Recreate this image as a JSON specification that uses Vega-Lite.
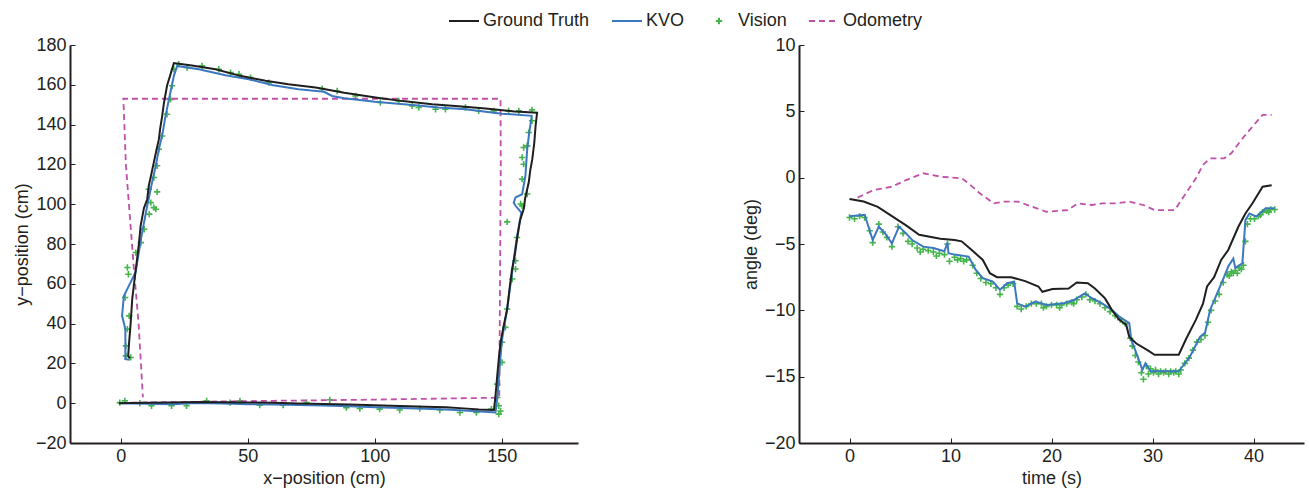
{
  "$schema": "https://vega.github.io/schema/vega-lite/v6.json",
  "background": "white",
  "padding": {"left": 13, "top": 5, "right": 3, "bottom": 5},
  "bounds": "flush",
  "spacing": 221,
  "config": {
    "view": {"stroke": null},
    "font": "Liberation Sans",
    "axis": {
      "grid": false,
      "domainColor": "#231f20",
      "domainWidth": 2,
      "tickColor": "#231f20",
      "tickWidth": 1,
      "tickSize": -5,
      "labelPadding": 9,
      "labelFont": "Liberation Sans",
      "labelFontSize": 18,
      "labelColor": "#231f20",
      "titleFont": "Liberation Sans",
      "titleFontSize": 18,
      "titleFontWeight": "normal",
      "titleColor": "#231f20",
      "titlePadding": 4
    },
    "legend": {
      "labelFont": "Liberation Sans",
      "labelFontSize": 18,
      "labelColor": "#231f20"
    }
  },
  "datasets": {
    "pos": [
      {"s":"Vision","x":22.8,"y":170.4},{"s":"Vision","x":26.1,"y":168.7},{"s":"Vision","x":32,"y":169.5},{"s":"Vision","x":38.6,"y":167.8},{"s":"Vision","x":43.2,"y":166.1},{"s":"Vision","x":46.5,"y":165.3},{"s":"Vision","x":51.1,"y":163.6},{"s":"Vision","x":58.3,"y":161.1},{"s":"Vision","x":79.3,"y":158.1},{"s":"Vision","x":85.2,"y":156.9},{"s":"Vision","x":92.4,"y":154.4},{"s":"Vision","x":102.2,"y":151.1},{"s":"Vision","x":109.4,"y":151.9},{"s":"Vision","x":114.7,"y":149.4},{"s":"Vision","x":117.3,"y":148.6},{"s":"Vision","x":123.9,"y":147.7},{"s":"Vision","x":127.8,"y":147.7},{"s":"Vision","x":135.7,"y":148.6},{"s":"Vision","x":140.9,"y":146.9},{"s":"Vision","x":146.8,"y":146.9},{"s":"Vision","x":152.7,"y":146.9},{"s":"Vision","x":156.7,"y":146.9},{"s":"Vision","x":161.9,"y":147.4},{"s":"Vision","x":161.9,"y":141.9},{"s":"Vision","x":160.6,"y":136},{"s":"Vision","x":160,"y":129.3},{"s":"Vision","x":158.6,"y":128.5},{"s":"Vision","x":158,"y":123.5},{"s":"Vision","x":158.6,"y":120.1},{"s":"Vision","x":158,"y":112.6},{"s":"Vision","x":160,"y":105.1},{"s":"Vision","x":157.4,"y":100.1},
      {"s":"Vision","x":20.9,"y":167.8},{"s":"Vision","x":20.2,"y":159.5},{"s":"Vision","x":19.6,"y":152.7},{"s":"Vision","x":18.2,"y":145.2},{"s":"Vision","x":16.3,"y":134.3},{"s":"Vision","x":15,"y":127.6},{"s":"Vision","x":14.3,"y":119.3},{"s":"Vision","x":13,"y":113.4},{"s":"Vision","x":14.3,"y":106.2},{"s":"Vision","x":11,"y":107.5},{"s":"Vision","x":13,"y":98.3},
      {"s":"Vision","x":11.8,"y":100.8},{"s":"Vision","x":13.8,"y":97.5},{"s":"Vision","x":11.2,"y":95},{"s":"Vision","x":9.2,"y":87.4},{"s":"Vision","x":7.9,"y":80.7},{"s":"Vision","x":5.9,"y":75.7},{"s":"Vision","x":2.6,"y":68.2},{"s":"Vision","x":3,"y":64.8},{"s":"Vision","x":1.7,"y":53.1},{"s":"Vision","x":3.3,"y":43.9},{"s":"Vision","x":2.6,"y":37.2},{"s":"Vision","x":2,"y":28.8},{"s":"Vision","x":2,"y":23.8},{"s":"Vision","x":3.9,"y":23},
      {"s":"Vision","x":158,"y":99.2},{"s":"Vision","x":152.1,"y":91.1},{"s":"Vision","x":156,"y":83.3},{"s":"Vision","x":155.4,"y":71.6},{"s":"Vision","x":155.4,"y":67.4},{"s":"Vision","x":154.1,"y":62.4},{"s":"Vision","x":152.1,"y":47.3},{"s":"Vision","x":151.4,"y":38.1},{"s":"Vision","x":150.1,"y":30.6},{"s":"Vision","x":150.1,"y":20.5},{"s":"Vision","x":148.2,"y":9.6},{"s":"Vision","x":148.2,"y":2.9},{"s":"Vision","x":148.8,"y":-1.3},{"s":"Vision","x":148.8,"y":-5.5},{"s":"Vision","x":149.5,"y":-3.9},
      {"s":"Vision","x":-0.4,"y":0.3},{"s":"Vision","x":1.6,"y":1.2},{"s":"Vision","x":7.5,"y":0},{"s":"Vision","x":12.1,"y":-1.3},{"s":"Vision","x":20,"y":-1.3},{"s":"Vision","x":25.9,"y":-1.3},{"s":"Vision","x":33.8,"y":1.2},{"s":"Vision","x":43,"y":0.3},{"s":"Vision","x":46.9,"y":1.2},{"s":"Vision","x":54.7,"y":-1},{"s":"Vision","x":63.9,"y":-1},{"s":"Vision","x":73.1,"y":0.3},{"s":"Vision","x":82.3,"y":1.7},{"s":"Vision","x":88.8,"y":-2.2},{"s":"Vision","x":94.1,"y":-2.7},{"s":"Vision","x":101.9,"y":-3},{"s":"Vision","x":109.8,"y":-3.4},{"s":"Vision","x":117.7,"y":-2.7},{"s":"Vision","x":125.6,"y":-3.4},{"s":"Vision","x":133.5,"y":-4.7},{"s":"Vision","x":140,"y":-4.7},{"s":"Vision","x":145.9,"y":-3},
      {"s":"Odometry","x":0,"y":0.2},{"s":"Odometry","x":20,"y":0.5},{"s":"Odometry","x":40,"y":0.9},{"s":"Odometry","x":60,"y":1.2},{"s":"Odometry","x":80,"y":1.5},{"s":"Odometry","x":100,"y":1.8},{"s":"Odometry","x":120,"y":2.2},{"s":"Odometry","x":140,"y":2.6},{"s":"Odometry","x":149,"y":2.8},{"s":"Odometry","x":149.2,"y":40},{"s":"Odometry","x":149.4,"y":80},{"s":"Odometry","x":149.6,"y":120},{"s":"Odometry","x":149.5,"y":153},{"s":"Odometry","x":120,"y":153},{"s":"Odometry","x":80,"y":153},{"s":"Odometry","x":40,"y":153},{"s":"Odometry","x":1,"y":153},{"s":"Odometry","x":2,"y":120},{"s":"Odometry","x":3.2,"y":100},{"s":"Odometry","x":5,"y":70},{"s":"Odometry","x":7,"y":40},{"s":"Odometry","x":8.7,"y":3},
      {"s":"KVO","x":0,"y":0},{"s":"KVO","x":10,"y":-0.3},{"s":"KVO","x":20,"y":-0.5},{"s":"KVO","x":30,"y":0.1},{"s":"KVO","x":40,"y":-0.2},{"s":"KVO","x":50,"y":-0.5},{"s":"KVO","x":60,"y":-0.6},{"s":"KVO","x":70,"y":-0.9},{"s":"KVO","x":80,"y":-1.2},{"s":"KVO","x":90,"y":-1.5},{"s":"KVO","x":100,"y":-2},{"s":"KVO","x":110,"y":-2.4},{"s":"KVO","x":120,"y":-2.8},{"s":"KVO","x":130,"y":-3.3},{"s":"KVO","x":140,"y":-4},{"s":"KVO","x":147.5,"y":-4.7},{"s":"KVO","x":148.3,"y":3},{"s":"KVO","x":148.8,"y":12},{"s":"KVO","x":149.4,"y":22},{"s":"KVO","x":150.1,"y":32},{"s":"KVO","x":151.1,"y":40},{"s":"KVO","x":152.1,"y":47},{"s":"KVO","x":153,"y":56},{"s":"KVO","x":154,"y":65},{"s":"KVO","x":155,"y":75},{"s":"KVO","x":156,"y":84},{"s":"KVO","x":157.7,"y":95.8},{"s":"KVO","x":155.4,"y":99.2},{"s":"KVO","x":154.7,"y":100.8},{"s":"KVO","x":155.4,"y":103.4},{"s":"KVO","x":158,"y":105},{"s":"KVO","x":159.3,"y":114.2},{"s":"KVO","x":159.6,"y":120},{"s":"KVO","x":160,"y":127.6},{"s":"KVO","x":160.8,"y":136},{"s":"KVO","x":161.8,"y":144.4},{"s":"KVO","x":150,"y":145.5},{"s":"KVO","x":135.7,"y":147.7},{"s":"KVO","x":125,"y":148.6},{"s":"KVO","x":116,"y":149.7},{"s":"KVO","x":100,"y":151.5},{"s":"KVO","x":88,"y":153.2},{"s":"KVO","x":83.2,"y":154.4},{"s":"KVO","x":80,"y":156.5},{"s":"KVO","x":70,"y":157.8},{"s":"KVO","x":60,"y":159.8},{"s":"KVO","x":50.4,"y":162.8},{"s":"KVO","x":41.2,"y":164.8},{"s":"KVO","x":30.7,"y":167.8},{"s":"KVO","x":22.2,"y":169.5},{"s":"KVO","x":20.9,"y":164.5},{"s":"KVO","x":19.5,"y":156},{"s":"KVO","x":17.6,"y":144.4},{"s":"KVO","x":16.5,"y":136},{"s":"KVO","x":15,"y":127.6},{"s":"KVO","x":13.7,"y":119},{"s":"KVO","x":12.3,"y":110.9},{"s":"KVO","x":10.4,"y":99.2},{"s":"KVO","x":8.4,"y":85.8},{"s":"KVO","x":7,"y":75},{"s":"KVO","x":5.8,"y":65.7},{"s":"KVO","x":3.8,"y":60.6},{"s":"KVO","x":1.2,"y":53.9},{"s":"KVO","x":0.5,"y":43.9},{"s":"KVO","x":1.8,"y":37.2},{"s":"KVO","x":1.8,"y":22.1},{"s":"KVO","x":3.5,"y":21.8},
      {"s":"Ground Truth","x":-0.8,"y":0},{"s":"Ground Truth","x":10,"y":0.2},{"s":"Ground Truth","x":20,"y":0.3},{"s":"Ground Truth","x":30,"y":0.6},{"s":"Ground Truth","x":40,"y":0.5},{"s":"Ground Truth","x":50,"y":0.4},{"s":"Ground Truth","x":60,"y":0.2},{"s":"Ground Truth","x":70,"y":-0.1},{"s":"Ground Truth","x":80,"y":-0.4},{"s":"Ground Truth","x":90,"y":-0.6},{"s":"Ground Truth","x":100,"y":-1},{"s":"Ground Truth","x":110,"y":-1.4},{"s":"Ground Truth","x":120,"y":-1.8},{"s":"Ground Truth","x":128,"y":-2},{"s":"Ground Truth","x":135,"y":-2.6},{"s":"Ground Truth","x":141,"y":-3.2},{"s":"Ground Truth","x":146.9,"y":-3.4},{"s":"Ground Truth","x":147.4,"y":2},{"s":"Ground Truth","x":148.2,"y":13.7},{"s":"Ground Truth","x":148.8,"y":22},{"s":"Ground Truth","x":149.5,"y":30.5},{"s":"Ground Truth","x":150.6,"y":38},{"s":"Ground Truth","x":152.1,"y":47.2},{"s":"Ground Truth","x":153,"y":57},{"s":"Ground Truth","x":154,"y":67},{"s":"Ground Truth","x":155.2,"y":75},{"s":"Ground Truth","x":156,"y":82.4},{"s":"Ground Truth","x":157.2,"y":92},{"s":"Ground Truth","x":158.7,"y":98},{"s":"Ground Truth","x":159.2,"y":103},{"s":"Ground Truth","x":160.6,"y":110.9},{"s":"Ground Truth","x":161.2,"y":117},{"s":"Ground Truth","x":162,"y":122.6},{"s":"Ground Truth","x":162.8,"y":131},{"s":"Ground Truth","x":163.3,"y":139.3},{"s":"Ground Truth","x":163.9,"y":146},{"s":"Ground Truth","x":155,"y":146.6},{"s":"Ground Truth","x":143.6,"y":148.1},{"s":"Ground Truth","x":133,"y":149.2},{"s":"Ground Truth","x":122.6,"y":150.2},{"s":"Ground Truth","x":111,"y":151.8},{"s":"Ground Truth","x":100.3,"y":153.6},{"s":"Ground Truth","x":88,"y":156},{"s":"Ground Truth","x":76.7,"y":158.6},{"s":"Ground Truth","x":66,"y":160.3},{"s":"Ground Truth","x":57,"y":162},{"s":"Ground Truth","x":47,"y":164.5},{"s":"Ground Truth","x":37.3,"y":167.8},{"s":"Ground Truth","x":28,"y":169.7},{"s":"Ground Truth","x":20.9,"y":170.9},{"s":"Ground Truth","x":19.5,"y":165},{"s":"Ground Truth","x":18.2,"y":159.5},{"s":"Ground Truth","x":17,"y":151},{"s":"Ground Truth","x":16.3,"y":144.4},{"s":"Ground Truth","x":15.5,"y":138},{"s":"Ground Truth","x":15,"y":132.7},{"s":"Ground Truth","x":14,"y":127},{"s":"Ground Truth","x":13,"y":121},{"s":"Ground Truth","x":12,"y":115},{"s":"Ground Truth","x":11,"y":109.2},{"s":"Ground Truth","x":10.4,"y":102.5},{"s":"Ground Truth","x":9.1,"y":98},{"s":"Ground Truth","x":7.8,"y":89.1},{"s":"Ground Truth","x":7.2,"y":81},{"s":"Ground Truth","x":6.4,"y":72.4},{"s":"Ground Truth","x":5.4,"y":62},{"s":"Ground Truth","x":4.5,"y":52.3},{"s":"Ground Truth","x":3.8,"y":38.8},{"s":"Ground Truth","x":3.3,"y":31},{"s":"Ground Truth","x":2.9,"y":23.8},{"s":"Ground Truth","x":3.6,"y":22.5}
    ],
    "ang": [
      {"s":"Vision","t":0,"a":-3.0},{"s":"Vision","t":0.5,"a":-3.1},{"s":"Vision","t":1.0,"a":-2.9},{"s":"Vision","t":1.5,"a":-3.0},{"s":"Vision","t":2.0,"a":-4.0},{"s":"Vision","t":2.3,"a":-4.9},{"s":"Vision","t":2.9,"a":-3.5},{"s":"Vision","t":3.3,"a":-4.1},{"s":"Vision","t":3.7,"a":-4.5},{"s":"Vision","t":4.2,"a":-5.2},{"s":"Vision","t":4.8,"a":-3.7},{"s":"Vision","t":5.3,"a":-4.2},{"s":"Vision","t":5.8,"a":-4.8},{"s":"Vision","t":6.2,"a":-5.0},{"s":"Vision","t":6.7,"a":-5.3},{"s":"Vision","t":7.3,"a":-5.4},{"s":"Vision","t":7.8,"a":-5.5},{"s":"Vision","t":8.3,"a":-5.6},{"s":"Vision","t":8.9,"a":-5.7},{"s":"Vision","t":9.4,"a":-5.8},{"s":"Vision","t":9.7,"a":-5.0},{"s":"Vision","t":9.9,"a":-6.3},{"s":"Vision","t":10.4,"a":-6.0},{"s":"Vision","t":11.0,"a":-6.1},{"s":"Vision","t":11.6,"a":-6.2},{"s":"Vision","t":12.2,"a":-6.6},{"s":"Vision","t":12.6,"a":-7.2},{"s":"Vision","t":13.0,"a":-7.6},{"s":"Vision","t":13.5,"a":-7.9},{"s":"Vision","t":14.0,"a":-8.0},{"s":"Vision","t":14.5,"a":-8.3},{"s":"Vision","t":14.9,"a":-8.8},{"s":"Vision","t":15.3,"a":-8.3},{"s":"Vision","t":15.7,"a":-8.1},{"s":"Vision","t":16.2,"a":-8.0},{"s":"Vision","t":16.6,"a":-9.7},{"s":"Vision","t":17.0,"a":-9.9},{"s":"Vision","t":17.5,"a":-9.7},{"s":"Vision","t":18.0,"a":-9.5},{"s":"Vision","t":18.5,"a":-9.5},{"s":"Vision","t":19.0,"a":-9.5},{"s":"Vision","t":19.5,"a":-9.7},{"s":"Vision","t":20.0,"a":-9.6},{"s":"Vision","t":20.5,"a":-9.6},{"s":"Vision","t":21.0,"a":-9.6},{"s":"Vision","t":21.5,"a":-9.5},{"s":"Vision","t":22.0,"a":-9.4},{"s":"Vision","t":22.5,"a":-9.2},{"s":"Vision","t":23.0,"a":-9.0},{"s":"Vision","t":23.4,"a":-8.8},{"s":"Vision","t":23.8,"a":-9.2},{"s":"Vision","t":24.3,"a":-9.3},{"s":"Vision","t":24.8,"a":-9.5},{"s":"Vision","t":25.3,"a":-9.8},{"s":"Vision","t":25.8,"a":-10.1},{"s":"Vision","t":26.3,"a":-10.4},{"s":"Vision","t":26.8,"a":-10.7},{"s":"Vision","t":27.3,"a":-11.0},{"s":"Vision","t":27.8,"a":-12.1},{"s":"Vision","t":28.0,"a":-12.7},{"s":"Vision","t":28.3,"a":-13.4},{"s":"Vision","t":28.6,"a":-13.9},{"s":"Vision","t":28.9,"a":-14.7},{"s":"Vision","t":29.1,"a":-15.2},{"s":"Vision","t":29.4,"a":-14.2},{"s":"Vision","t":29.8,"a":-14.4},{"s":"Vision","t":30.3,"a":-14.5},{"s":"Vision","t":30.8,"a":-14.6},{"s":"Vision","t":31.3,"a":-14.6},{"s":"Vision","t":31.8,"a":-14.6},{"s":"Vision","t":32.3,"a":-14.6},{"s":"Vision","t":32.8,"a":-14.5},{"s":"Vision","t":33.2,"a":-14.0},{"s":"Vision","t":33.6,"a":-13.6},{"s":"Vision","t":34.0,"a":-13.0},{"s":"Vision","t":34.4,"a":-12.4},{"s":"Vision","t":34.8,"a":-12.2},{"s":"Vision","t":35.2,"a":-11.9},{"s":"Vision","t":35.5,"a":-10.9},{"s":"Vision","t":35.8,"a":-10.0},{"s":"Vision","t":36.2,"a":-9.3},{"s":"Vision","t":36.6,"a":-8.8},{"s":"Vision","t":37.0,"a":-7.9},{"s":"Vision","t":37.4,"a":-7.3},{"s":"Vision","t":37.8,"a":-7.1},{"s":"Vision","t":38.2,"a":-7.0},{"s":"Vision","t":38.6,"a":-6.8},{"s":"Vision","t":39.0,"a":-6.6},{"s":"Vision","t":39.2,"a":-4.8},{"s":"Vision","t":39.4,"a":-3.5},{"s":"Vision","t":39.7,"a":-3.1},{"s":"Vision","t":40.1,"a":-3.1},{"s":"Vision","t":40.5,"a":-2.9},{"s":"Vision","t":40.9,"a":-2.6},{"s":"Vision","t":41.3,"a":-2.5},{"s":"Vision","t":41.7,"a":-2.4},{"s":"Vision","t":42.1,"a":-2.4},
      {"s":"Vision","t":29.6,"a":-14.8},{"s":"Vision","t":30.1,"a":-14.7},{"s":"Vision","t":30.6,"a":-14.8},{"s":"Vision","t":31.1,"a":-14.7},{"s":"Vision","t":31.6,"a":-14.8},{"s":"Vision","t":32.1,"a":-14.7},{"s":"Vision","t":32.6,"a":-14.8},{"s":"Vision","t":37.6,"a":-7.4},{"s":"Vision","t":38.0,"a":-7.2},{"s":"Vision","t":38.4,"a":-7.2},{"s":"Vision","t":38.8,"a":-6.9},{"s":"Vision","t":19.2,"a":-9.8},{"s":"Vision","t":20.8,"a":-9.8},{"s":"Vision","t":22.2,"a":-9.5},{"s":"Vision","t":7.0,"a":-5.6},{"s":"Vision","t":8.6,"a":-5.9},{"s":"Vision","t":10.7,"a":-6.2},{"s":"Vision","t":11.3,"a":-6.3},{"s":"Vision","t":40.7,"a":-2.8},{"s":"Vision","t":41.5,"a":-2.6},
      {"s":"Odometry","t":0.8,"a":-1.5},{"s":"Odometry","t":2.4,"a":-0.93},{"s":"Odometry","t":4.2,"a":-0.68},{"s":"Odometry","t":5.6,"a":-0.18},{"s":"Odometry","t":7.3,"a":0.33},{"s":"Odometry","t":9.0,"a":0.08},{"s":"Odometry","t":11.1,"a":-0.05},{"s":"Odometry","t":11.8,"a":-0.43},{"s":"Odometry","t":12.9,"a":-1.18},{"s":"Odometry","t":14.3,"a":-1.94},{"s":"Odometry","t":15.3,"a":-1.81},{"s":"Odometry","t":16.7,"a":-1.81},{"s":"Odometry","t":18.1,"a":-2.19},{"s":"Odometry","t":19.5,"a":-2.57},{"s":"Odometry","t":21.6,"a":-2.44},{"s":"Odometry","t":22.6,"a":-1.94},{"s":"Odometry","t":24.0,"a":-2.06},{"s":"Odometry","t":25.0,"a":-1.94},{"s":"Odometry","t":26.4,"a":-1.94},{"s":"Odometry","t":27.7,"a":-1.81},{"s":"Odometry","t":29.1,"a":-2.06},{"s":"Odometry","t":30.2,"a":-2.44},{"s":"Odometry","t":32.2,"a":-2.44},{"s":"Odometry","t":33.3,"a":-1.18},{"s":"Odometry","t":34.3,"a":-0.05},{"s":"Odometry","t":35.0,"a":0.96},{"s":"Odometry","t":35.7,"a":1.46},{"s":"Odometry","t":37.1,"a":1.46},{"s":"Odometry","t":37.8,"a":1.84},{"s":"Odometry","t":38.8,"a":2.85},{"s":"Odometry","t":39.9,"a":3.85},{"s":"Odometry","t":40.9,"a":4.73},{"s":"Odometry","t":41.8,"a":4.73},
      {"s":"KVO","t":0,"a":-2.9},{"s":"KVO","t":1.5,"a":-2.8},{"s":"KVO","t":2.3,"a":-4.7},{"s":"KVO","t":2.9,"a":-3.69},{"s":"KVO","t":3.5,"a":-4.19},{"s":"KVO","t":4.2,"a":-4.95},{"s":"KVO","t":4.9,"a":-3.69},{"s":"KVO","t":5.6,"a":-4.2},{"s":"KVO","t":6.2,"a":-4.7},{"s":"KVO","t":7.3,"a":-5.2},{"s":"KVO","t":8.3,"a":-5.3},{"s":"KVO","t":9.4,"a":-5.55},{"s":"KVO","t":9.7,"a":-4.9},{"s":"KVO","t":9.8,"a":-5.7},{"s":"KVO","t":10.4,"a":-5.8},{"s":"KVO","t":11.8,"a":-5.95},{"s":"KVO","t":12.5,"a":-6.96},{"s":"KVO","t":13.2,"a":-7.58},{"s":"KVO","t":14.2,"a":-7.84},{"s":"KVO","t":14.9,"a":-8.46},{"s":"KVO","t":15.6,"a":-7.96},{"s":"KVO","t":16.3,"a":-7.84},{"s":"KVO","t":16.6,"a":-9.47},{"s":"KVO","t":17.4,"a":-9.72},{"s":"KVO","t":18.4,"a":-9.34},{"s":"KVO","t":19.5,"a":-9.6},{"s":"KVO","t":21.2,"a":-9.47},{"s":"KVO","t":22.2,"a":-9.22},{"s":"KVO","t":23.3,"a":-8.72},{"s":"KVO","t":24.0,"a":-9.09},{"s":"KVO","t":25.0,"a":-9.47},{"s":"KVO","t":26.0,"a":-9.97},{"s":"KVO","t":26.7,"a":-10.47},{"s":"KVO","t":27.7,"a":-10.97},{"s":"KVO","t":27.9,"a":-12.23},{"s":"KVO","t":28.4,"a":-13.23},{"s":"KVO","t":29.0,"a":-14.49},{"s":"KVO","t":29.3,"a":-13.99},{"s":"KVO","t":29.8,"a":-14.6},{"s":"KVO","t":32.6,"a":-14.6},{"s":"KVO","t":33.7,"a":-13.5},{"s":"KVO","t":34.7,"a":-12.0},{"s":"KVO","t":35.2,"a":-11.7},{"s":"KVO","t":35.7,"a":-9.97},{"s":"KVO","t":36.4,"a":-8.72},{"s":"KVO","t":37.1,"a":-7.46},{"s":"KVO","t":37.5,"a":-6.7},{"s":"KVO","t":38.0,"a":-6.1},{"s":"KVO","t":38.2,"a":-6.8},{"s":"KVO","t":38.9,"a":-6.45},{"s":"KVO","t":39.2,"a":-3.2},{"s":"KVO","t":39.6,"a":-2.7},{"s":"KVO","t":40.3,"a":-2.94},{"s":"KVO","t":41.2,"a":-2.3},{"s":"KVO","t":42.1,"a":-2.3},
      {"s":"Ground Truth","t":0,"a":-1.6},{"s":"Ground Truth","t":1.4,"a":-1.8},{"s":"Ground Truth","t":2.8,"a":-2.2},{"s":"Ground Truth","t":4.2,"a":-2.9},{"s":"Ground Truth","t":5.6,"a":-3.6},{"s":"Ground Truth","t":6.9,"a":-4.3},{"s":"Ground Truth","t":9.0,"a":-4.6},{"s":"Ground Truth","t":10.4,"a":-4.7},{"s":"Ground Truth","t":11.1,"a":-4.8},{"s":"Ground Truth","t":12.1,"a":-5.45},{"s":"Ground Truth","t":13.2,"a":-6.2},{"s":"Ground Truth","t":13.9,"a":-7.2},{"s":"Ground Truth","t":14.6,"a":-7.5},{"s":"Ground Truth","t":16.0,"a":-7.5},{"s":"Ground Truth","t":17.4,"a":-7.8},{"s":"Ground Truth","t":18.7,"a":-8.2},{"s":"Ground Truth","t":19.1,"a":-8.6},{"s":"Ground Truth","t":20.1,"a":-8.4},{"s":"Ground Truth","t":21.7,"a":-8.35},{"s":"Ground Truth","t":22.5,"a":-7.9},{"s":"Ground Truth","t":23.6,"a":-7.95},{"s":"Ground Truth","t":24.3,"a":-8.35},{"s":"Ground Truth","t":25.3,"a":-9.1},{"s":"Ground Truth","t":26.0,"a":-10.0},{"s":"Ground Truth","t":26.7,"a":-10.7},{"s":"Ground Truth","t":27.4,"a":-11.1},{"s":"Ground Truth","t":27.7,"a":-12.0},{"s":"Ground Truth","t":28.4,"a":-12.5},{"s":"Ground Truth","t":29.5,"a":-13.0},{"s":"Ground Truth","t":30.2,"a":-13.35},{"s":"Ground Truth","t":32.6,"a":-13.35},{"s":"Ground Truth","t":33.3,"a":-12.2},{"s":"Ground Truth","t":34.3,"a":-10.7},{"s":"Ground Truth","t":35.0,"a":-9.5},{"s":"Ground Truth","t":35.4,"a":-8.2},{"s":"Ground Truth","t":36.1,"a":-7.5},{"s":"Ground Truth","t":36.8,"a":-6.2},{"s":"Ground Truth","t":37.5,"a":-5.45},{"s":"Ground Truth","t":38.5,"a":-3.7},{"s":"Ground Truth","t":39.2,"a":-2.7},{"s":"Ground Truth","t":39.9,"a":-1.93},{"s":"Ground Truth","t":40.9,"a":-0.68},{"s":"Ground Truth","t":41.8,"a":-0.57}
    ]
  },
  "hconcat": [
    {
      "width": 508,
      "height": 398,
      "data": {"name": "pos"},
      "encoding": {
        "x": {"field": "x", "type": "quantitative", "scale": {"domain": [-20, 180], "nice": false, "zero": false}, "axis": {"title": "x\u2212position (cm)", "values": [0, 50, 100, 150]}},
        "y": {"field": "y", "type": "quantitative", "scale": {"domain": [-20, 180], "nice": false, "zero": false}, "axis": {"title": "y\u2212position (cm)", "values": [-20, 0, 20, 40, 60, 80, 100, 120, 140, 160, 180]}},
        "color": {
          "field": "s", "type": "nominal",
          "scale": {"domain": ["Ground Truth", "KVO", "Vision", "Odometry"], "range": ["#1f1f1f", "#3c78c0", "#43b549", "#c050a8"]},
          "legend": {
            "title": null, "orient": "none", "direction": "horizontal", "columns": 4,
            "legendX": 378, "legendY": -40,
            "symbolSize": 900, "symbolStrokeWidth": 2, "labelOffset": 3, "columnPadding": 18,
            "encode": {"symbols": {"update": {
              "shape": {"signal": "datum.value === 'Vision' ? 'M-1,0H1M0,-1V1' : 'stroke'"},
              "size": {"signal": "datum.value === 'Vision' ? 40 : 900"},
              "strokeDash": {"signal": "datum.value === 'Odometry' ? [6,4] : [1,0]"},
              "strokeWidth": {"value": 2},
              "fill": {"value": "transparent"}
            }}}
          }
        }
      },
      "layer": [
        {"transform": [{"filter": "datum.s === 'Vision'"}], "mark": {"type": "point", "shape": "M-1,0H1M0,-1V1", "size": 40, "strokeWidth": 1.6, "filled": false, "opacity": 1}},
        {"transform": [{"filter": "datum.s === 'Odometry'"}], "mark": {"type": "line", "strokeWidth": 1.8, "strokeDash": [6, 4]}, "encoding": {"order": {"value": null}}},
        {"transform": [{"filter": "datum.s === 'KVO'"}], "mark": {"type": "line", "strokeWidth": 2}, "encoding": {"order": {"value": null}}},
        {"transform": [{"filter": "datum.s === 'Ground Truth'"}], "mark": {"type": "line", "strokeWidth": 2}, "encoding": {"order": {"value": null}}}
      ]
    },
    {
      "width": 505,
      "height": 398,
      "data": {"name": "ang"},
      "encoding": {
        "x": {"field": "t", "type": "quantitative", "scale": {"domain": [-5, 45], "nice": false, "zero": false}, "axis": {"title": "time (s)", "values": [0, 10, 20, 30, 40]}},
        "y": {"field": "a", "type": "quantitative", "scale": {"domain": [-20, 10], "nice": false, "zero": false}, "axis": {"title": "angle (deg)", "values": [-20, -15, -10, -5, 0, 5, 10]}},
        "color": {"field": "s", "type": "nominal"}
      },
      "layer": [
        {"transform": [{"filter": "datum.s === 'Vision'"}], "mark": {"type": "point", "shape": "M-1,0H1M0,-1V1", "size": 40, "strokeWidth": 1.6, "filled": false, "opacity": 1}},
        {"transform": [{"filter": "datum.s === 'Odometry'"}], "mark": {"type": "line", "strokeWidth": 1.8, "strokeDash": [6, 4]}, "encoding": {"order": {"value": null}}},
        {"transform": [{"filter": "datum.s === 'KVO'"}], "mark": {"type": "line", "strokeWidth": 2}, "encoding": {"order": {"value": null}}},
        {"transform": [{"filter": "datum.s === 'Ground Truth'"}], "mark": {"type": "line", "strokeWidth": 2}, "encoding": {"order": {"value": null}}}
      ]
    }
  ]
}
